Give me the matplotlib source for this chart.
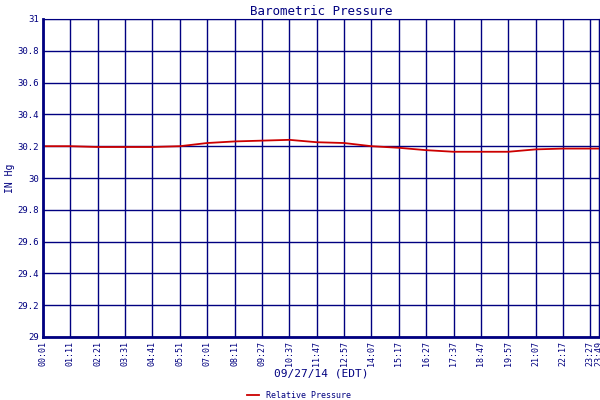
import matplotlib
matplotlib.use('Agg')
import matplotlib.pyplot as plt

tick_labels = ['00:01', '01:11', '02:21', '03:31', '04:41', '05:51', '07:01', '08:11',
               '09:27', '10:37', '11:47', '12:57', '14:07', '15:17', '16:27', '17:37',
               '18:47', '19:57', '21:07', '22:17', '23:27', '23:49']
pressure = [30.20, 30.20, 30.195, 30.195, 30.195, 30.20, 30.22, 30.23, 30.235, 30.24,
            30.225, 30.22, 30.20, 30.19, 30.175, 30.165, 30.165, 30.165, 30.18, 30.185,
            30.185, 30.185]

def minutes(t):
    h, m = t.split(':')
    return int(h) * 60 + int(m)

# grid positions are evenly spaced up to 23:27, last one is the real end time
pos = list(range(len(tick_labels) - 1))
step = (minutes(tick_labels[-2]) - minutes(tick_labels[0])) / (len(pos) - 1)
pos.append(pos[-1] + (minutes(tick_labels[-1]) - minutes(tick_labels[-2])) / step)

navy = '#000080'
plt.rcParams['font.family'] = 'DejaVu Sans Mono'
fig = plt.figure(figsize=(6, 4), dpi=100)
ax = fig.add_axes([43/600, 63/400, 556/600, 318/400])
ax.plot(pos, pressure, color='#cc0000', lw=1.3)
ax.set_xlim(pos[0], pos[-1])
ax.set_ylim(29, 31)
ax.set_xticks(pos)
ax.set_xticklabels(tick_labels, rotation=90, fontsize=6, color=navy)
yt = [29 + 0.2 * i for i in range(11)]
ax.set_yticks(yt)
ax.set_yticklabels(['%g' % round(v, 1) for v in yt], fontsize=6.5, color=navy)
ax.grid(True, color=navy, lw=1)
ax.tick_params(length=0, pad=3)
for s in ax.spines.values():
    s.set_color(navy)
ax.spines['left'].set_linewidth(2)
ax.spines['bottom'].set_linewidth(2)
ax.set_title('Barometric Pressure', fontsize=9, color=navy, pad=3)
ax.set_ylabel('IN Hg', fontsize=7, color=navy, labelpad=2)
ax.set_xlabel('09/27/14 (EDT)', fontsize=8, color=navy, labelpad=2)
ax.legend(['Relative Pressure'], loc='center', bbox_to_anchor=(0.46, -0.185),
          frameon=False, fontsize=6, labelcolor=navy, handlelength=1.5,
          borderpad=0, borderaxespad=0)
fig.savefig('out.png')
